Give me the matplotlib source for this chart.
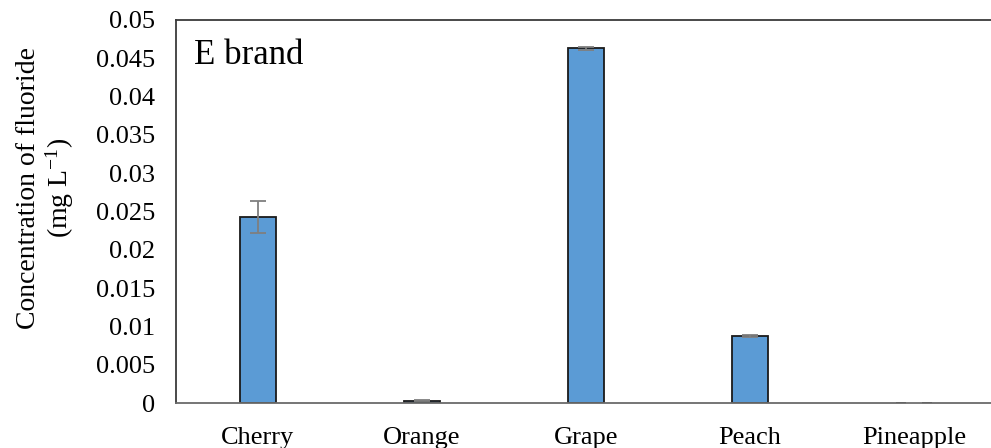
import matplotlib
matplotlib.use("Agg")
import matplotlib.pyplot as plt

plt.rcParams['font.family'] = ['Liberation Serif', 'DejaVu Serif']
plt.rcParams['mathtext.fontset'] = 'custom'
plt.rcParams['mathtext.rm'] = 'Liberation Serif'
plt.rcParams['mathtext.it'] = 'Liberation Serif:italic'

categories = ["Cherry", "Orange", "Grape", "Peach", "Pineapple"]
values = [0.0243, 0.0003, 0.0463, 0.00875, 0.0]
errors = [0.0021, 0.0001, 0.0002, 0.0001, 0.0]
yticks = [0, 0.005, 0.01, 0.015, 0.02, 0.025, 0.03, 0.035, 0.04, 0.045, 0.05]
ytick_labels = ["0", "0.005", "0.01", "0.015", "0.02", "0.025", "0.03",
                "0.035", "0.04", "0.045", "0.05"]

fig = plt.figure(figsize=(9.91, 4.48), dpi=100)
ax = fig.add_axes([0.1776, 0.1004, 0.8224, 0.855])

x = list(range(len(categories)))
ax.bar(x, values, width=0.22, color="#5B9BD5", edgecolor="#1a1a1a",
       linewidth=1.3, zorder=2)
ax.errorbar(x, values, yerr=errors, fmt="none", ecolor="#7f7f7f",
            elinewidth=1.3, capsize=6, capthick=1.3, zorder=3)

ax.set_xlim(-0.5, 4.47)
ax.set_ylim(0, 0.05)
ax.set_yticks(yticks)
ax.set_yticklabels(ytick_labels)
ax.set_xticks(x)
ax.set_xticklabels(categories)
ax.tick_params(axis="y", length=0, pad=15, labelsize=19)
ax.tick_params(axis="x", length=0, pad=17, labelsize=19)

for side in ("left", "top"):
    ax.spines[side].set_color("#3a3a3a")
    ax.spines[side].set_linewidth(1.3)
ax.spines["bottom"].set_color("#6a6a6a")
ax.spines["bottom"].set_linewidth(1.3)
ax.spines["right"].set_visible(False)

ax.set_ylabel("Concentration of fluoride\n(mg L$^{\\mathregular{-1}}$)",
              fontsize=20, linespacing=1.1)
ax.yaxis.set_label_coords(-0.1225, 0.561)

ax.text(0.022, 0.95, "E brand", transform=ax.transAxes, fontsize=25,
        ha="left", va="top")

fig.savefig("out.png", dpi=100)
